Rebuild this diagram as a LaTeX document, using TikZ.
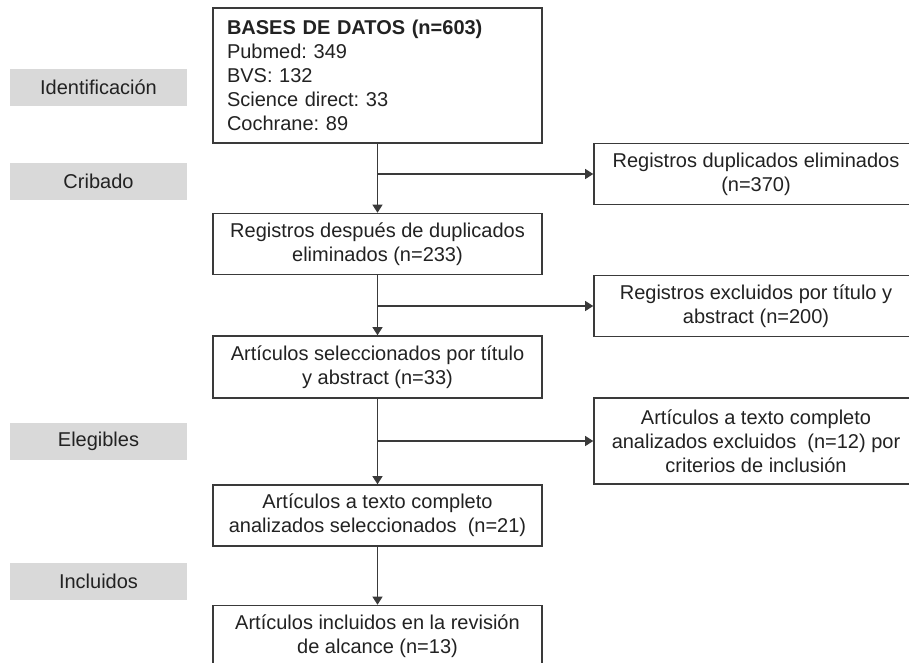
\documentclass[tikz,border=0pt]{standalone}
\usepackage{fontspec}
\setmainfont{Liberation Sans}
\usetikzlibrary{arrows.meta}
\definecolor{linegray}{HTML}{3A3A3A}
\definecolor{textgray}{HTML}{222222}
\definecolor{stagegray}{HTML}{D9D9D9}
\frenchspacing
\begin{document}
\begin{tikzpicture}[x=1pt,y=-1pt,
every node/.style={font=\fontsize{20}{24}\selectfont, text=textgray},
stage/.style={fill=stagegray, minimum width=177pt, minimum height=37pt, inner sep=0pt},
mainbox/.style={draw=linegray, line width=1.6pt, fill=white, minimum width=329pt, minimum height=61pt, align=center, inner sep=0pt},
sidebox/.style={mainbox, minimum width=324pt},
flow/.style={draw=linegray, line width=1.1pt, -{Triangle[length=8pt,width=10pt]}}]
\clip (0,0) rectangle (909,662);
\node[stage] (ident) at (98.5,87) {Identificación};
\node[stage] (crib) at (98.5,181.5) {Cribado};
\node[stage] (eleg) at (98.5,441.5) {Elegibles};
\node[stage] (incl) at (98.5,581.5) {Incluidos};
\node[mainbox, minimum height=135pt, align=left, text width=301pt, inner xsep=14pt] (bases) at (377.5,75.5)
{\textbf{BASES DE DATOS (n=603)}\\Pubmed: 349\\BVS: 132\\Science direct: 33\\Cochrane: 89};
\node[mainbox] (dupl) at (377.5,244) {Registros después de duplicados\\eliminados (n=233)};
\node[mainbox, minimum height=62pt] (titab) at (377.5,367) {Artículos seleccionados por título\\y abstract (n=33)};
\node[mainbox] (compl) at (377.5,515.5) {Artículos a texto completo\\analizados seleccionados\ \ (n=21)};
\node[mainbox] (final) at (377.5,636) {Artículos incluidos en la revisión\\de alcance (n=13)};
\node[sidebox] (rdup) at (756,174) {Registros duplicados eliminados\\(n=370)};
\node[sidebox] (rexc) at (756,306) {Registros excluidos por título y\\abstract (n=200)};
\node[sidebox, minimum height=86pt] (rcrit) at (756,441) {Artículos a texto completo\\analizados excluidos\ \ (n=12) por\\criterios de inclusión};
\draw[flow] (bases) -- (dupl);
\draw[flow] (dupl) -- (titab);
\draw[flow] (titab) -- (compl);
\draw[flow] (compl) -- (final);
\draw[flow] (bases.south |- rdup.west) -- (rdup);
\draw[flow] (dupl.south |- rexc.west) -- (rexc);
\draw[flow] (titab.south |- rcrit.west) -- (rcrit);
\end{tikzpicture}
\end{document}
